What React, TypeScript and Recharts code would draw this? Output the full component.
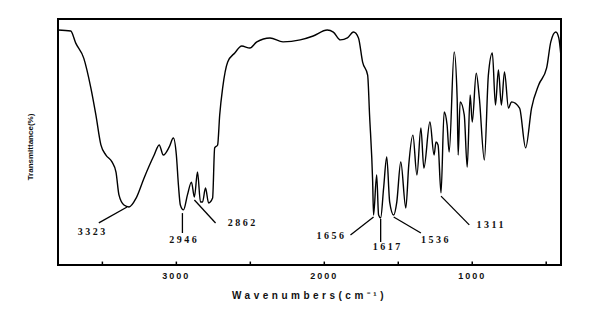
import React from "react";
import {
  LineChart,
  Line,
  XAxis,
  YAxis,
  ReferenceLine,
  ReferenceDot,
  ReferenceArea,
} from "recharts";

// wavenumber (cm-1), high to low
const wavenumbers = [
  3800, 3714, 3680, 3626, 3578, 3544, 3510, 3476, 3435, 3408, 3388, 3354, 3320,
  3272, 3218, 3150, 3116, 3088, 3048, 3020, 3000, 2986, 2973, 2952, 2925, 2898,
  2878, 2857, 2837, 2823, 2803, 2782, 2755, 2741, 2721, 2707, 2687, 2653, 2605,
  2558, 2503, 2456, 2367, 2279, 2163, 2075, 1980, 1939, 1891, 1844, 1803, 1769,
  1741, 1707, 1694, 1673, 1667, 1646, 1633, 1619, 1599, 1578, 1558, 1531, 1510,
  1483, 1449, 1429, 1401, 1374, 1347, 1327, 1286, 1258, 1245, 1231, 1211, 1190,
  1170, 1156, 1122, 1102, 1095, 1082, 1054, 1034, 1014, 1000, 973, 952, 918,
  891, 864, 843, 823, 803, 782, 755, 735, 680, 639, 599, 551, 497, 469, 435,
  415, 401,
];

const transmittance = [
  95.5, 95.1, 90.2, 84.1, 72.0, 61.0, 48.8, 44.7, 41.9, 37.8, 28.5, 24.4, 23.6,
  27.2, 35.4, 44.7, 48.8, 44.7, 48.0, 51.6, 44.7, 32.5, 24.4, 22.4, 28.5, 33.7,
  27.6, 37.8, 25.6, 25.6, 31.3, 25.2, 27.2, 47.6, 48.8, 61.0, 72.0, 82.5, 86.2,
  89.0, 88.2, 90.7, 92.3, 90.7, 91.5, 93.1, 95.5, 94.7, 91.5, 92.3, 94.7, 92.3,
  82.5, 77.2, 61.0, 33.7, 20.3, 36.6, 20.3, 19.1, 31.3, 43.9, 25.6, 20.3, 25.6,
  41.9, 23.2, 40.7, 52.8, 36.6, 55.7, 39.4, 58.1, 44.7, 50.0, 48.8, 29.3, 62.2,
  56.9, 45.9, 86.6, 67.9, 44.7, 66.3, 61.0, 39.8, 69.1, 58.1, 78.0, 67.9, 42.7,
  77.2, 86.2, 65.0, 79.3, 65.0, 78.5, 63.8, 66.3, 63.8, 47.6, 63.8, 73.2, 80.1,
  90.7, 94.7, 92.3, 85.4,
];

const majorTicks = [3000, 2000, 1000];
const minorTicks = [3500, 3000, 2500, 2000, 1500, 1000, 500];

// peak annotations: label, leader line start/end, label anchor
const peakLabels = ["3323", "2946", "2862", "1656", "1617", "1536", "1311"];
const leaderFrom = [
  [3333, 23.6], [2959, 21.1], [2878, 26.4], [1667, 19.5], [1619, 18.7], [1531, 19.5], [1211, 28.0],
];
const leaderTo = [
  [3524, 17.1], [2959, 13.0], [2735, 17.1], [1823, 12.2], [1619, 9.3], [1347, 13.0], [1020, 16.3],
];
const labelAt = [
  [3565, 13.8], [2946, 10.2], [2551, 17.1], [1952, 11.8], [1571, 7.7], [1245, 10.2], [871, 16.3],
];

const data = wavenumbers.map((w, i) => ({ wn: w, t: transmittance[i] }));

const PeakText = (label: string) => (props: any) => (
  <text
    x={props.cx}
    y={props.cy}
    dy={3.5}
    textAnchor="middle"
    fontFamily="Liberation Serif"
    fontWeight="bold"
    fontSize={10}
    letterSpacing={2.5}
    fill="#111"
  >
    {label}
  </text>
);

export default function App() {
  return (
    <div style={{ position: "absolute", left: 0, top: 0, background: "#fff" }}>
      <LineChart
        width={600}
        height={330}
        data={data}
        margin={{ top: 19, right: 39, bottom: 0, left: 0 }}
      >
        <XAxis
          dataKey="wn"
          type="number"
          domain={[400, 3800]}
          reversed
          ticks={majorTicks}
          axisLine={false}
          tickLine={false}
          height={65}
          tickMargin={2}
          tick={{
            fontSize: 9,
            fontWeight: "bold",
            fontFamily: "Liberation Sans",
            letterSpacing: 2,
            fill: "#111",
          }}
          label={{
            content: (p: any) => (
              <text
                x={p.viewBox.x + p.viewBox.width / 2}
                y={299}
                textAnchor="middle"
                fontFamily="Liberation Sans"
                fontWeight="bold"
                fontSize={10}
                letterSpacing={3.5}
                fill="#111"
              >
                Wavenumbers(cm⁻¹)
              </text>
            ),
          }}
        />
        <YAxis
          type="number"
          domain={[0, 100]}
          width={58}
          tick={false}
          axisLine={false}
          tickLine={false}
          label={{
            content: () => (
              <text
                x={33}
                y={147}
                transform="rotate(-90 33 147)"
                textAnchor="middle"
                fontFamily="Liberation Sans"
                fontWeight="bold"
                fontSize={8}
                fill="#111"
              >
                Transmittance(%)
              </text>
            ),
          }}
        />
        <ReferenceArea
          x1={3800}
          x2={400}
          y1={0}
          y2={100}
          fill="none"
          stroke="#000"
          strokeWidth={2}
          ifOverflow="visible"
        />
        {minorTicks.map((t) => (
          <ReferenceLine
            key={t}
            segment={[
              { x: t, y: 0 },
              { x: t, y: 1.4 },
            ]}
            stroke="#000"
            strokeWidth={1.5}
          />
        ))}
        <Line
          dataKey="t"
          type="monotoneX"
          stroke="#000"
          strokeWidth={1.4}
          dot={false}
          isAnimationActive={false}
        />
        {peakLabels.map((lab, i) => (
          <ReferenceLine
            key={"l" + lab}
            segment={[
              { x: leaderFrom[i][0], y: leaderFrom[i][1] },
              { x: leaderTo[i][0], y: leaderTo[i][1] },
            ]}
            stroke="#000"
            strokeWidth={1.3}
          />
        ))}
        {peakLabels.map((lab, i) => (
          <ReferenceDot
            key={"t" + lab}
            x={labelAt[i][0]}
            y={labelAt[i][1]}
            r={0}
            shape={PeakText(lab)}
          />
        ))}
      </LineChart>
    </div>
  );
}
